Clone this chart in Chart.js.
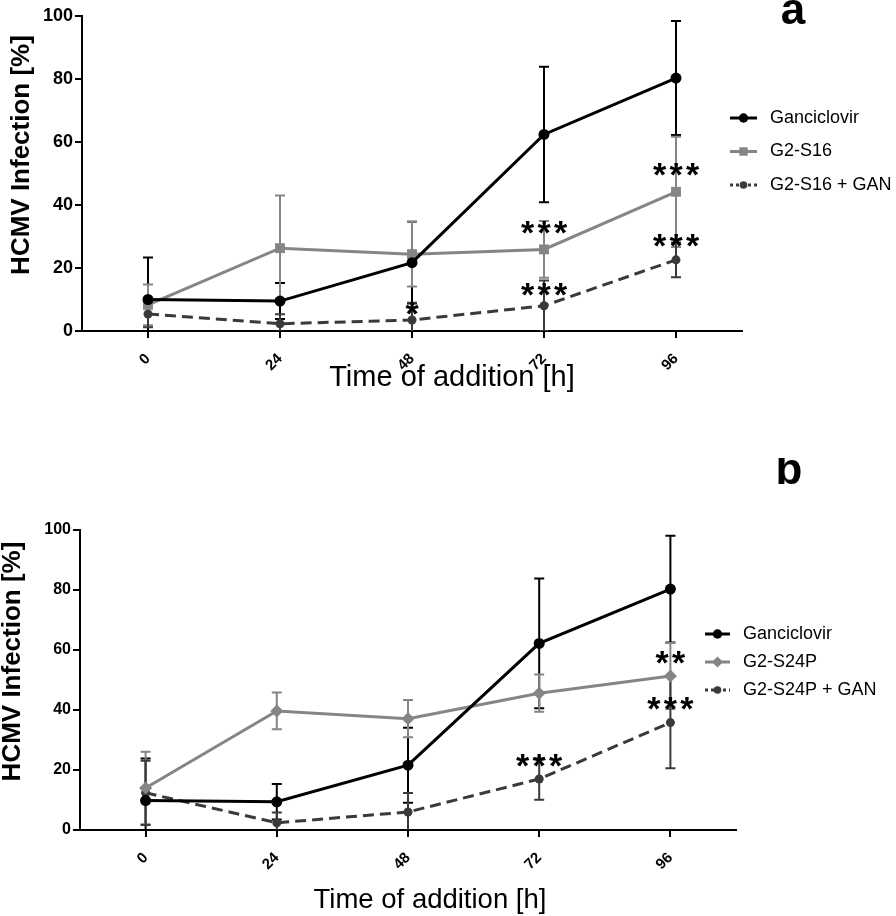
<!DOCTYPE html>
<html>
<head>
<meta charset="utf-8">
<script src="https://cdn.jsdelivr.net/npm/chart.js@4.4.1/dist/chart.umd.min.js"></script>
<style>
  html, body { margin: 0; padding: 0; background: #fff; }
  #wrap { position: relative; width: 896px; height: 916px; }
  canvas { position: absolute; left: 0; }
</style>
</head>
<body>
<div id="wrap">
  <canvas id="chartA" width="896" height="458" style="top:0"></canvas>
  <canvas id="chartB" width="896" height="458" style="top:458px"></canvas>
</div>
<script>
// time points (x tick labels)
const hours = ['0', '24', '48', '72', '96'];

// panel a : mean and SD
const aGanciclovir    = [10, 9.5, 21.7, 62.4, 80.3];
const aGanciclovirErr = [13.3, 5.7, 13, 21.5, 18.1];
const aS16            = [8.3, 26.3, 24.4, 25.9, 44.2];
const aS16Err         = [6.5, 16.7, 10.3, 9.0, 17.5];
const aS16Gan         = [5.4, 2.3, 3.5, 8.0, 22.6];
const aS16GanErr      = [4.2, 3.0, 5.5, 8.0, 5.5];

// panel b
const bGanciclovir    = [9.8, 9.4, 21.6, 62.2, 80.3];
const bGanciclovirErr = [14, 5.9, 12.5, 21.6, 17.8];
const bS24P           = [14, 39.7, 37.1, 45.6, 51.3];
const bS24PErr        = [12.1, 6.1, 6.2, 6.2, 11];
const bS24PGan        = [12.4, 2.4, 6, 17, 35.8];
const bS24PGanErr     = [10.7, 3.4, 6.3, 6.9, 15.2];

// significance marks: time index, height (% units), text
const aSigIdx  = [2, 3, 3, 4, 4];
const aSigY    = [6.3, 32, 12.4, 50.5, 27.9];
const aSigText = ['*', '***', '***', '***', '***'];
const bSigIdx  = [3, 4, 4];
const bSigY    = [22.3, 56.7, 41.3];
const bSigText = ['***', '**', '***'];

const FONT = "'Liberation Sans', Arial, Helvetica, sans-serif";
Chart.defaults.font.family = FONT;
Chart.defaults.color = '#000';

const BLACK = '#000000', GRAY = '#858585', DARK = '#3a3a3a';

function series(label, vals, errs, color, style, radius, dash, legendDash) {
  return {
    label: label,
    data: vals,
    errors: errs,
    borderColor: color,
    backgroundColor: color,
    borderWidth: 3,
    borderDash: dash,
    legendDash: legendDash,
    pointStyle: style,
    pointRadius: radius,
    pointBackgroundColor: color,
    pointBorderWidth: 0,
    tension: 0
  };
}

function makeDecor(cfg) {
  return {
    id: 'decor',
    beforeDatasetsDraw(chart) {
      const ctx = chart.ctx, area = chart.chartArea, ys = chart.scales.y;
      ctx.save();
      ctx.beginPath();
      ctx.rect(area.left, 0, area.right - area.left, area.bottom);
      ctx.clip();
      chart.data.datasets.forEach((ds, i) => {
        const meta = chart.getDatasetMeta(i);
        ctx.strokeStyle = ds.borderColor;
        ctx.lineWidth = 2;
        ctx.setLineDash([]);
        meta.data.forEach((pt, j) => {
          const v = ds.data[j], e = ds.errors[j];
          const t = ys.getPixelForValue(v + e), b = ys.getPixelForValue(v - e);
          ctx.beginPath();
          ctx.moveTo(pt.x, t); ctx.lineTo(pt.x, b);
          ctx.moveTo(pt.x - 5, t); ctx.lineTo(pt.x + 5, t);
          ctx.moveTo(pt.x - 5, b); ctx.lineTo(pt.x + 5, b);
          ctx.stroke();
        });
      });
      ctx.restore();
    },
    afterDraw(chart) {
      const ctx = chart.ctx, xs = chart.scales.x, ys = chart.scales.y;
      ctx.save();
      // significance stars, one glyph at a time
      ctx.fillStyle = '#000';
      ctx.font = 'bold 34px ' + FONT;
      ctx.textAlign = 'center';
      ctx.textBaseline = 'alphabetic';
      cfg.sigIdx.forEach((k, i) => {
        const chars = cfg.sigText[i].split('');
        const cx = xs.getPixelForValue(k), cy = ys.getPixelForValue(cfg.sigY[i]) + 14;
        chars.forEach((c, n) => {
          ctx.fillText(c, cx + (n - (chars.length - 1) / 2) * 16.5, cy);
        });
      });
      // legend
      const L = cfg.legend;
      chart.data.datasets.forEach((ds, i) => {
        const y = L.y + i * L.gap;
        ctx.strokeStyle = ds.borderColor;
        ctx.fillStyle = ds.borderColor;
        ctx.lineWidth = 3;
        ctx.setLineDash(ds.legendDash);
        ctx.beginPath();
        ctx.moveTo(L.x, y); ctx.lineTo(L.x + L.len, y);
        ctx.stroke();
        ctx.setLineDash([]);
        Chart.helpers.drawPoint(ctx, { pointStyle: ds.pointStyle, radius: ds.pointRadius * 0.85, borderWidth: 0, rotation: 0 }, L.x + L.len / 2, y);
        ctx.fillStyle = '#000';
        ctx.font = L.font + ' ' + FONT;
        ctx.textAlign = 'left';
        ctx.textBaseline = 'middle';
        ctx.fillText(ds.label, L.textX, y);
      });
      // axis titles
      ctx.fillStyle = '#000';
      ctx.textAlign = 'center';
      ctx.textBaseline = 'middle';
      ctx.font = cfg.xTitle.font + ' ' + FONT;
      ctx.fillText(cfg.xTitle.text, cfg.xTitle.x, cfg.xTitle.y);
      ctx.save();
      ctx.translate(cfg.yTitle.x, cfg.yTitle.y);
      ctx.rotate(-Math.PI / 2);
      ctx.font = cfg.yTitle.font + ' ' + FONT;
      ctx.fillText(cfg.yTitle.text, 0, 0);
      ctx.restore();
      // panel letter
      ctx.font = 'bold 44px ' + FONT;
      ctx.textBaseline = 'alphabetic';
      ctx.fillText(cfg.letter.text, cfg.letter.x, cfg.letter.y);
      ctx.restore();
    }
  };
}

function makeChart(id, cfg) {
  const axisGrid = { display: true, drawOnChartArea: false, drawTicks: true, tickLength: 7, color: '#000', lineWidth: 2 };
  const axisBorder = { display: true, color: '#000', width: 2 };
  return new Chart(document.getElementById(id), {
    type: 'line',
    data: { labels: hours, datasets: cfg.datasets },
    options: {
      responsive: false,
      animation: false,
      devicePixelRatio: 1,
      layout: { padding: cfg.pad },
      plugins: { legend: { display: false }, tooltip: { enabled: false } },
      scales: {
        x: {
          type: 'category',
          offset: true,
          grid: axisGrid,
          border: axisBorder,
          ticks: { color: '#000', font: { size: 15, weight: 'bold' }, minRotation: 45, maxRotation: 45, padding: 12, autoSkip: false },
          afterFit: s => { s.height = cfg.xHeight; }
        },
        y: {
          min: 0,
          max: 100,
          grid: axisGrid,
          border: axisBorder,
          ticks: { stepSize: 20, color: '#000', font: { size: cfg.yTickSize, weight: 'bold' }, padding: 2 },
          afterFit: s => { s.width = cfg.yWidth; }
        }
      }
    },
    plugins: [makeDecor(cfg)]
  });
}

makeChart('chartA', {
  datasets: [
    series('Ganciclovir', aGanciclovir, aGanciclovirErr, BLACK, 'circle', 5.5, [], []),
    series('G2-S16', aS16, aS16Err, GRAY, 'rect', 7, [], []),
    series('G2-S16 + GAN', aS16Gan, aS16GanErr, DARK, 'circle', 4.5, [11, 6], [3, 3])
  ],
  pad: { left: 0, right: 154, top: 16, bottom: 0 },
  yWidth: 82, xHeight: 127, yTickSize: 18,
  sigIdx: aSigIdx, sigY: aSigY, sigText: aSigText,
  legend: { x: 730, y: 118, gap: 33.5, len: 27, textX: 770, font: '18px' },
  xTitle: { text: 'Time of addition [h]', x: 452, y: 378, font: '29px' },
  yTitle: { text: 'HCMV Infection [%]', x: 22, y: 155, font: 'bold 26px' },
  letter: { text: 'a', x: 793, y: 24 }
});

makeChart('chartB', {
  datasets: [
    series('Ganciclovir', bGanciclovir, bGanciclovirErr, BLACK, 'circle', 5.5, [], []),
    series('G2-S24P', bS24P, bS24PErr, GRAY, 'rectRot', 6.5, [], []),
    series('G2-S24P + GAN', bS24PGan, bS24PGanErr, DARK, 'circle', 4.5, [11, 6], [3, 3])
  ],
  pad: { left: 0, right: 160, top: 72, bottom: 0 },
  yWidth: 80, xHeight: 86, yTickSize: 16,
  sigIdx: bSigIdx, sigY: bSigY, sigText: bSigText,
  legend: { x: 705, y: 176, gap: 28, len: 25, textX: 743, font: '18px' },
  xTitle: { text: 'Time of addition [h]', x: 430, y: 442, font: '27.5px' },
  yTitle: { text: 'HCMV Infection [%]', x: 13, y: 203.5, font: 'bold 26px' },
  letter: { text: 'b', x: 789, y: 26 }
});
</script>
</body>
</html>
